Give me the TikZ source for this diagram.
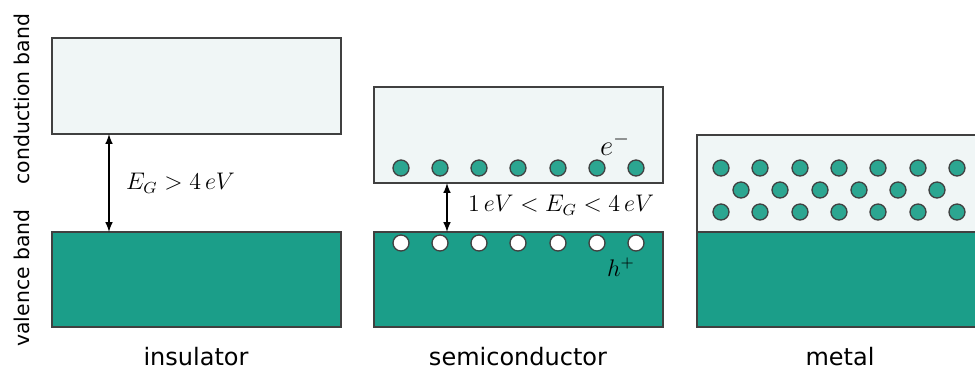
\documentclass[tikz,border=0pt]{standalone}
\usepackage{fontspec}
\newfontfamily\labelfont{DejaVu Sans}
\usetikzlibrary{arrows}
\definecolor{bTeal}{RGB}{27,158,137}
\definecolor{bDot}{RGB}{44,166,145}
\definecolor{bLight}{RGB}{240,246,246}
\definecolor{bLine}{gray}{0.25}
\tikzset{
    cband/.style={draw=bLine, line width=0.6pt, fill=bLight},
    vband/.style={draw=bLine, line width=0.6pt, fill=bTeal},
    elec/.style={circle, draw=bLine, line width=0.65pt, inner sep=0pt, minimum size=8pt, fill=bDot},
    hole/.style={circle, draw=bLine, line width=0.65pt, inner sep=0pt, minimum size=8pt, fill=white},
    matlabel/.style={font=\labelfont\fontsize{12}{14}\selectfont},
    sidelabel/.style={font=\labelfont\fontsize{10.2}{12}\selectfont, rotate=90}
}

\begin{document}
\begin{tikzpicture}[x=0.5pt,y=-0.5pt]
\useasboundingbox (0,0) rectangle (975,377);
% insulator
\draw[cband] (52,38) rectangle (341,134);
\draw[vband] (52,232) rectangle (341,327);
% semiconductor
\draw[cband] (374,87) rectangle (663,183);
\draw[vband] (374,232) rectangle (663,327);
% metal
\draw[cband] (697,135) rectangle (985,232);
\draw[vband] (697,232) rectangle (985,327);

% band gaps
\coordinate (gi1) at (109,134);
\coordinate (gi2) at (109,232);
\coordinate (gs1) at (447,183);
\coordinate (gs2) at (447,232);
\draw[latex-latex, line width=0.7pt] (gi1) -- (gi2);
\draw[latex-latex, line width=0.7pt] (gs1) -- (gs2);
\node[anchor=west, font=\large] (egi) at (119,183) {$E_G > 4\,eV$};
\node[anchor=west, font=\large] (egs) at (461,205) {$1\,eV < E_G < 4\,eV$};

% electrons and holes
\node[elec] (e1) at (401,168) {};
\node[elec] (e2) at (440,168) {};
\node[elec] (e3) at (479,168) {};
\node[elec] (e4) at (518,168) {};
\node[elec] (e5) at (558,168) {};
\node[elec] (e6) at (597,168) {};
\node[elec] (e7) at (636,168) {};
\node[hole] (h1) at (401,243) {};
\node[hole] (h2) at (440,243) {};
\node[hole] (h3) at (479,243) {};
\node[hole] (h4) at (518,243) {};
\node[hole] (h5) at (558,243) {};
\node[hole] (h6) at (597,243) {};
\node[hole] (h7) at (636,243) {};
\node[font=\Large] (em) at (615,144) {$e^-$};
\node[font=\large] (hp) at (621,267) {$h^+$};

% free electrons in the metal
\node[elec] (m1)  at (721,168) {};
\node[elec] (m2)  at (760,168) {};
\node[elec] (m3)  at (800,168) {};
\node[elec] (m4)  at (839,168) {};
\node[elec] (m5)  at (878,168) {};
\node[elec] (m6)  at (918,168) {};
\node[elec] (m7)  at (957,168) {};
\node[elec] (m8)  at (741,190) {};
\node[elec] (m9)  at (780,190) {};
\node[elec] (m10) at (820,190) {};
\node[elec] (m11) at (859,190) {};
\node[elec] (m12) at (898,190) {};
\node[elec] (m13) at (937,190) {};
\node[elec] (m14) at (721,212) {};
\node[elec] (m15) at (760,212) {};
\node[elec] (m16) at (800,212) {};
\node[elec] (m17) at (839,212) {};
\node[elec] (m18) at (878,212) {};
\node[elec] (m19) at (918,212) {};
\node[elec] (m20) at (957,212) {};

% labels
\node[sidelabel] (cb) at (22,99) {conduction band};
\node[sidelabel] (vb) at (22,278) {valence band};
\node[matlabel] (ins) at (196,357) {insulator};
\node[matlabel] (sem) at (518,357) {semiconductor};
\node[matlabel] (met) at (840,357) {metal};
\end{tikzpicture}
\end{document}
